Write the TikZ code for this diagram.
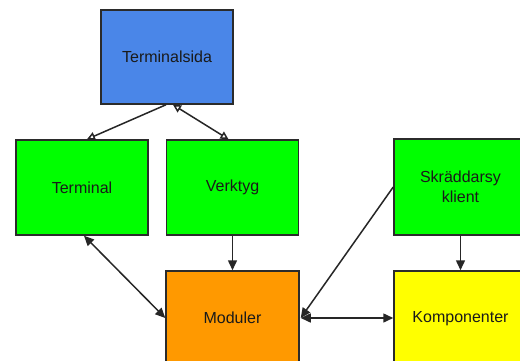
\documentclass[tikz,border=0pt]{standalone}
\usepackage{fontspec}
\setmainfont{Liberation Sans}
\usetikzlibrary{arrows.meta}
\definecolor{cblue}{HTML}{4A86E8}
\definecolor{cgreen}{HTML}{00FF00}
\definecolor{corange}{HTML}{FF9900}
\definecolor{cyellow}{HTML}{FFFF00}
\definecolor{cborder}{HTML}{2B2B2B}
\definecolor{ctext}{HTML}{1A1A1A}
\tikzset{
  box/.style={draw=cborder, line width=1.5pt, minimum width=132pt, minimum height=94pt,
    inner sep=0pt, align=center, text=ctext, font=\fontsize{16}{20.5}\selectfont},
  conn/.style={line width=1.5pt, draw=black!85},
  fa/.style={-{Triangle[length=10pt,width=9pt]}},
  fb/.style={{Triangle[length=10pt,width=9pt]}-{Triangle[length=10pt,width=9pt]}},
  oa/.style={-{Triangle[open,length=8pt,width=8pt]}},
  ob/.style={{Triangle[open,length=8pt,width=8pt]}-{Triangle[open,length=8pt,width=8pt]}},
}
\begin{document}
\begin{tikzpicture}[x=1pt,y=-1pt]
\useasboundingbox (0,0) rectangle (520,361);
\clip (0,0) rectangle (520,361);
\fill[white] (0,0) rectangle (520,361);
\node[box, fill=cblue] (ts) at (167,57) {Terminalsida};
\node[box, fill=cgreen, minimum height=95pt] (term) at (82,187.5) {Terminal};
\node[box, fill=cgreen, minimum height=95pt] (verk) at (232.5,187.5) {Verktyg};
\node[box, fill=cgreen, minimum width=133pt, minimum height=96pt] (skr) at (460.5,187) {Skräddarsy\\klient};
\node[box, fill=corange, minimum width=133pt] (mod) at (232.5,318) {Moduler};
\node[box, fill=cyellow, minimum width=133pt] (komp) at (460.5,318) {Komponenter\strut};
\draw[conn, oa] ([xshift=-1pt]ts.south) -- ([xshift=5pt]term.north);
\draw[conn, ob] ([xshift=6pt]ts.south) -- ([xshift=-4pt]verk.north);
\draw[conn, fb] ([xshift=2pt]term.south) -- (mod.west);
\draw[conn, fa] (verk.south) -- (mod.north);
\draw[conn, fa] (skr.west) -- ([xshift=1pt]mod.east);
\draw[conn, fb] ([xshift=1pt]mod.east) -- (komp.west);
\draw[conn, fa] (skr.south) -- (komp.north);
\end{tikzpicture}
\end{document}
